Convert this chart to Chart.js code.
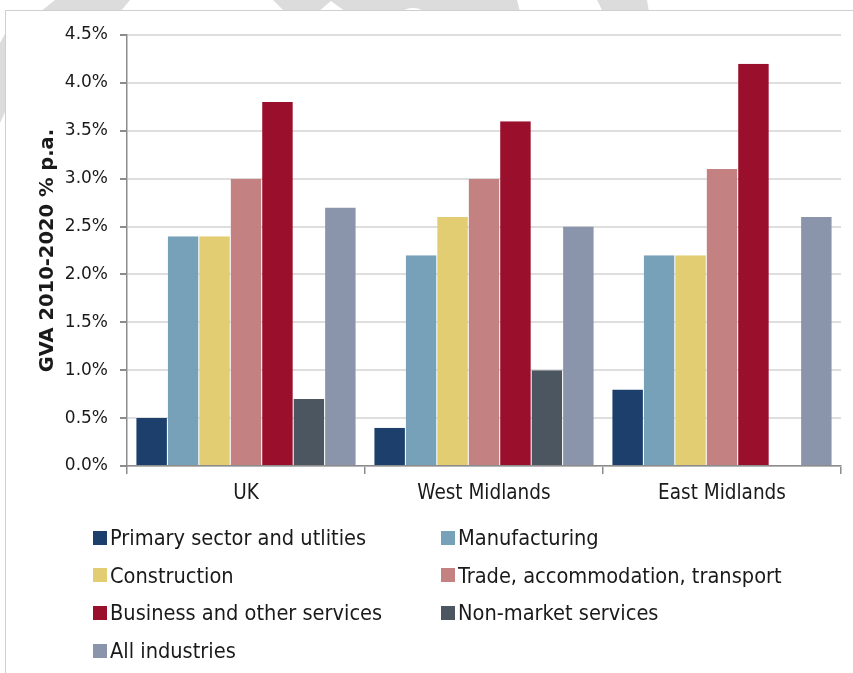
<!DOCTYPE html>
<html>
<head>
<meta charset="utf-8">
<script src="https://cdn.jsdelivr.net/npm/chart.js@4.4.1/dist/chart.umd.min.js"></script>
<style>
  html, body { margin: 0; padding: 0; background: #fff; }
  body { width: 853px; height: 673px; position: relative; overflow: hidden;
         font-family: "DejaVu Sans Condensed", "DejaVu Sans", sans-serif; }
  #bg { position: absolute; left: 0; top: 0; }
  #frame { position: absolute; left: 5px; top: 10px; width: 900px; height: 700px;
           background: #fff; border-left: 1.5px solid #cfcfcf; border-top: 1.5px solid #cfcfcf; }
  #chart { position: absolute; left: 0; top: 0; }
  #legend { position: absolute; left: 93px; top: 519px; width: 740px;
            display: grid; grid-template-columns: 348px 392px; row-gap: 0; }
  .item { display: flex; align-items: center; height: 37.6px; font-size: 21.6px; color: #1a1a1a; }
  .sw { width: 14px; height: 14px; margin-right: 3px; flex: none; }
</style>
</head>
<body>
<svg id="bg" width="853" height="130">
  <g fill="#dcdcdc">
    <polygon points="55,0 130,0 120,12 40,12"/>
    <polygon points="0,43 6,32 6,110 0,123"/>
    <polygon points="273,0 517,0 520,12 285,12"/>
    <polygon points="597,0 647,0 649,12 603,12"/>
  </g>
  <g fill="#fff">
    <polygon points="318,12 346,12 331,1"/>
    <circle cx="413" cy="26" r="18"/>
  </g>
</svg>
<div id="frame"></div>
<canvas id="chart" width="853" height="673"></canvas>
<div id="legend"></div>
<script>
// Regions along the category axis
const regions = ["UK", "West Midlands", "East Midlands"];

// Sector names and their bar colours
const sectors = [
  "Primary sector and utlities",
  "Manufacturing",
  "Construction",
  "Trade, accommodation, transport",
  "Business and other services",
  "Non-market services",
  "All industries"
];
const sectorColours = ["#1d3f6c", "#77a1b9", "#e2cd72", "#c38281", "#9a0f2c", "#4b5661", "#8a94ab"];

// Annual GVA growth 2010-2020 (% p.a.), one array per sector: UK, West Midlands, East Midlands
const primary       = [0.5, 0.4, 0.8];
const manufacturing = [2.4, 2.2, 2.2];
const construction  = [2.4, 2.6, 2.2];
const trade         = [3.0, 3.0, 3.1];
const business      = [3.8, 3.6, 4.2];
const nonMarket     = [0.7, 1.0, null];
const allIndustries = [2.7, 2.5, 2.6];

// Value axis ticks
const yMin = 0, yMax = 4.5, yStep = 0.5;

const seriesValues = [primary, manufacturing, construction, trade, business, nonMarket, allIndustries];

const condensed = "'DejaVu Sans Condensed', 'DejaVu Sans', sans-serif";
const regular = "'DejaVu Sans', sans-serif";

const chart = new Chart(document.getElementById("chart"), {
  type: "bar",
  data: {
    labels: regions,
    datasets: sectors.map((name, i) => ({
      label: name,
      data: seriesValues[i],
      backgroundColor: sectorColours[i],
      borderColor: "rgba(255,255,255,0.3)",
      borderWidth: { left: 0.5, right: 0.5, top: 0, bottom: 0 },
      barPercentage: 1.0,
      categoryPercentage: 0.925
    }))
  },
  options: {
    responsive: false,
    animation: false,
    devicePixelRatio: 1,
    layout: { padding: { left: 0, right: 12, top: 35, bottom: 167 } },
    plugins: { legend: { display: false }, tooltip: { enabled: false } },
    scales: {
      x: {
        grid: { display: true, drawOnChartArea: false, drawTicks: true, tickLength: 8,
                tickColor: "#8c8c8c", lineWidth: 1.5, offset: true },
        border: { color: "#8c8c8c", width: 1.5 },
        ticks: { color: "#1a1a1a", font: { family: condensed, size: 20.5 }, padding: 7 },
        afterFit: s => { s.height = 40; }
      },
      y: {
        min: yMin, max: yMax,
        ticks: { stepSize: yStep, color: "#1a1a1a", font: { family: regular, size: 17 }, padding: 12,
                 callback: v => v.toFixed(1) + "%" },
        grid: { color: "#dedede", lineWidth: 2, tickColor: "#8c8c8c", tickLength: 7 },
        border: { color: "#8c8c8c", width: 1.5 },
        title: { display: true, text: "GVA 2010-2020 % p.a.", color: "#1a1a1a",
                 font: { family: regular, size: 19.5, weight: "bold" }, padding: { top: 36, bottom: 0 } },
        afterFit: s => { s.width = 127; }
      }
    }
  }
});

// Two-column legend built from the chart's datasets
const legend = document.getElementById("legend");
chart.data.datasets.forEach(ds => {
  const item = document.createElement("div");
  item.className = "item";
  const sw = document.createElement("span");
  sw.className = "sw";
  sw.style.background = ds.backgroundColor;
  const txt = document.createElement("span");
  txt.textContent = ds.label;
  item.appendChild(sw);
  item.appendChild(txt);
  legend.appendChild(item);
});
</script>
</body>
</html>
